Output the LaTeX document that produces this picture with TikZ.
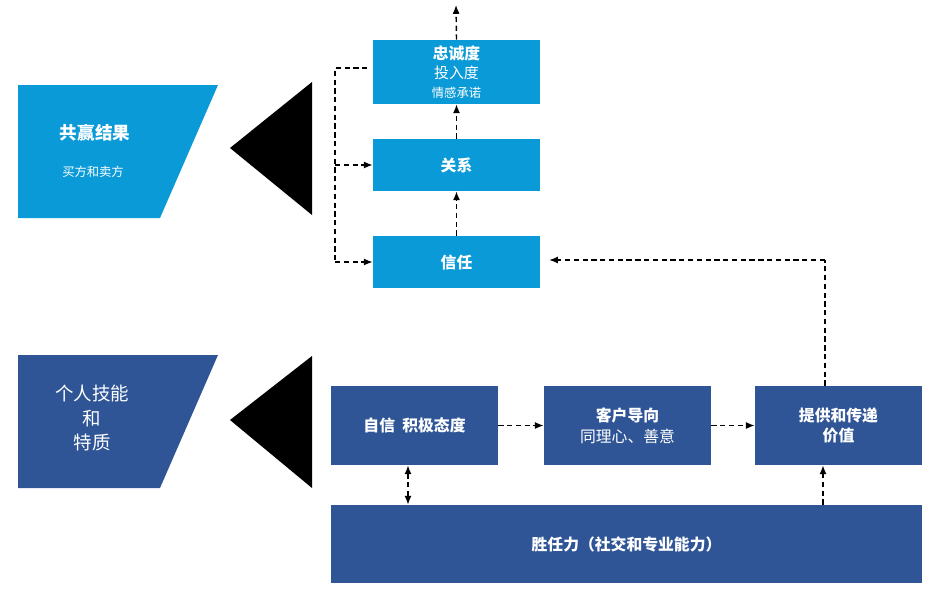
\documentclass[tikz,border=0pt]{standalone}
\usepackage{fontspec}
\setmainfont{Noto Sans CJK SC}
\usetikzlibrary{arrows.meta}
\definecolor{lb}{HTML}{0A9AD7}
\definecolor{db}{HTML}{2F5597}
\begin{document}
\begin{tikzpicture}[x=0.02cm,y=-0.02cm,
 lbox/.style={fill=lb,draw=none,text=white,align=center,inner sep=0},
 dbox/.style={fill=db,draw=none,text=white,align=center,inner sep=0},
 da/.style={densely dashed,line width=0.8pt,-{Latex[length=5pt,width=4pt]}}]
\useasboundingbox (0,0) rectangle (940,592);
% left shapes
\fill[lb] (18,85)--(218,85)--(160,218)--(18,218)--cycle;
\node[text=white,font=\bfseries\fontsize{10}{12}\selectfont] (gy) at (95,133) {共赢结果};
\node[text=white,font=\fontsize{7}{9}\selectfont] (mf) at (93,172) {买方和卖方};
\fill (230,148)--(312,82)--(312,215)--cycle;
\fill[db] (18,355)--(218,355)--(160,488)--(18,488)--cycle;
\node[text=white,align=center,font=\fontsize{10.5}{14}\selectfont] (gr) at (92,418) {个人技能\\和\\特质};
\fill (230,420)--(312,356)--(312,488)--cycle;
% top boxes
\node[lbox,minimum width=3.34cm,minimum height=1.28cm] (zc) at (456.5,72) {\textbf{\fontsize{9}{11}\selectfont 忠诚度}\\[-1pt]{\fontsize{8.5}{10}\selectfont 投入度}\\[-1pt]{\fontsize{7}{9}\selectfont 情感承诺}};
\node[lbox,minimum width=3.34cm,minimum height=1.04cm,font=\bfseries\fontsize{9}{11}\selectfont] (gx) at (456.5,165) {关系};
\node[lbox,minimum width=3.34cm,minimum height=1.04cm,font=\bfseries\fontsize{9}{11}\selectfont] (xr) at (456.5,262) {信任};
% bottom boxes
\node[dbox,minimum width=3.34cm,minimum height=1.58cm,font=\bfseries\fontsize{9}{11}\selectfont] (zx) at (414.5,425.5) {自信\ \ 积极态度};
\node[dbox,minimum width=3.34cm,minimum height=1.58cm] (kh) at (627.5,425.5) {\textbf{\fontsize{9}{11}\selectfont 客户导向}\\{\fontsize{9}{11}\selectfont 同理心、善意}};
\node[dbox,minimum width=3.34cm,minimum height=1.58cm,font=\bfseries\fontsize{9}{11}\selectfont] (tg) at (838.5,425.5) {提供和传递\\价值};
\node[dbox,minimum width=11.82cm,minimum height=1.56cm,font=\bfseries\fontsize{9}{11}\selectfont] (sr) at (626.5,544) {胜任力（社交和专业能力）};
% connectors
\coordinate (top) at (456,5);
\draw[da] (zc.north) -- (top);
\draw[da] (xr.north) -- (gx.south);
\draw[da] (gx.north) -- (zc.south);
\draw[densely dashed,line width=0.8pt] ([xshift=-3pt]zc.west |- 0,68) -- (335,68) -- (335,262);
\draw[da] (335,262) -- (xr.west);
\draw[da] (335,165) -- (gx.west);
\draw[da] (zx.east) -- (kh.west);
\draw[da] (kh.east) -- (tg.west);
\draw[da] (sr.north -| 823,0) -- (tg.south -| 823,0);
\draw[densely dashed,line width=0.8pt,{Latex[length=5pt,width=4pt]}-{Latex[length=5pt,width=4pt]}] (zx.south -| 408,0) -- (sr.north -| 408,0);
\draw[densely dashed,line width=0.8pt] (tg.north -| 825,0) -- (825,260);
\draw[da] (825,260) -- ([xshift=5pt]xr.east |- 0,260);
\end{tikzpicture}
\end{document}
